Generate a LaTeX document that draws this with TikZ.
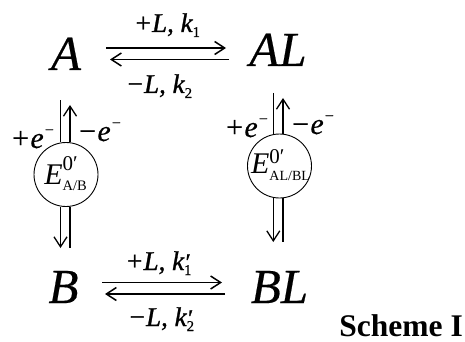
\documentclass[tikz,border=0pt]{standalone}
\usepackage{fontspec}
\setmainfont{Liberation Serif}
\newfontface\spf[FakeBold=0.4]{Liberation Serif Italic}
\newfontface\rtf[FakeBold=1.1]{Liberation Serif Italic}
\newfontface\upf[FakeBold=0.5]{Liberation Serif}
\usetikzlibrary{arrows.meta,shapes.geometric}
% \SubSup{sub}{sup}{sub raise}{sup raise}{sub size}{sup size}
\newcommand{\SubSup}[6]{\setbox0=\hbox{\raisebox{#3}{\fontsize{#5}{#5}\selectfont #1}}\setbox1=\hbox{\raisebox{#4}{\fontsize{#6}{#6}\selectfont #2}}\ifdim\wd0>\wd1 \rlap{\box1}\box0\else\rlap{\box0}\box1\fi}
\newcommand{\RK}[2]{k\SubSup{\upf #1}{\rtf #2}{-5pt}{0pt}{15}{24}}
\newcommand{\Elec}[1]{#1e\raisebox{13pt}{\fontsize{16}{16}\selectfont −}}
\tikzset{
 x=1pt,y=-1pt,
 species/.style={inner sep=0pt,font=\fontsize{49}{49}\selectfont\spf,anchor=base},
 rate/.style={inner sep=0pt,font=\fontsize{27}{27}\selectfont\rtf,anchor=base},
 elec/.style={inner sep=0pt,font=\fontsize{30}{30}\selectfont\spf,anchor=base west},
 potential/.style={circle,draw,line width=0.9pt,minimum size=64pt,inner sep=0pt},
 potlabel/.style={inner sep=0pt,font=\fontsize{30}{30}\selectfont\itshape,anchor=base},
 eqarrow/.style={line width=1.5pt,-{Straight Barb[length=10pt,width=13pt,line width=1.5pt]}},
 redox/.style={line width=1.3pt},
 redoxarrow/.style={line width=1.3pt,-{Straight Barb[length=10pt,width=13pt,line width=1.3pt]}}
}
\begin{document}
\begin{tikzpicture}
\useasboundingbox (0,0) rectangle (465,342);
\fill[white] (0,0) rectangle (465,342);
\node[species] (A) at (66,70) {A};
\node[species] (AL) at (278,66) {AL};
\node[species] (B) at (63.5,303) {B};
\node[species] (BL) at (279.5,303) {BL};
\coordinate (a1) at (106,48); \coordinate (a2) at (226,48);
\coordinate (a3) at (229,59.5); \coordinate (a4) at (110,59.5);
\coordinate (b1) at (102,282.5); \coordinate (b2) at (222,282.5);
\coordinate (b3) at (225,294); \coordinate (b4) at (105,294);
\draw[eqarrow] (a1) -- (a2);
\draw[eqarrow] (a3) -- (a4);
\draw[eqarrow] (b1) -- (b2);
\draw[eqarrow] (b3) -- (b4);
\node[rate] (t1) at (167,32) {+L, \RK{1}{\vphantom{1}}};
\node[rate] (t2) at (159,93) {−L, \RK{2}{\vphantom{1}}};
\node[rate] (t3) at (158.5,270) {+L, \RK{1}{′}};
\node[rate] (t4) at (161,326) {−L, \RK{2}{′}};
\node[potential] (E1) at (66,174.5) {};
\node[potential] (E2) at (279.5,166) {};
\node[potlabel] (E1t) at (65.5,184) {E\SubSup{\upshape A/B}{\upshape 0′}{-6pt}{14pt}{14.5}{21}};
\node[potlabel] (E2t) at (280.5,173) {E\SubSup{\upshape AL/BL}{\upshape 0′}{-7pt}{10pt}{14}{21}};
\coordinate (l1) at (60.5,100.5); \coordinate (l2) at (70,105);
\coordinate (l3) at (70,248); \coordinate (l4) at (60.5,248);
\draw[redox] (l1) -- (l1 |- E1.north);
\draw[redoxarrow] (l2 |- E1.north) -- (l2);
\draw[redox] (l3 |- E1.south) -- (l3);
\draw[redoxarrow] (l4 |- E1.south) -- (l4);
\coordinate (r1) at (273.3,93); \coordinate (r2) at (283,98);
\coordinate (r3) at (283,242); \coordinate (r4) at (273.3,242);
\draw[redox] (r1) -- (r1 |- E2.north);
\draw[redoxarrow] (r2 |- E2.north) -- (r2);
\draw[redox] (r3 |- E2.south) -- (r3);
\draw[redoxarrow] (r4 |- E2.south) -- (r4);
\node[elec] (p1) at (10,148) {\Elec{+}};
\node[elec] (m1) at (77,141) {\Elec{−}};
\node[elec] (p2) at (224,137) {\Elec{+}};
\node[elec] (m2) at (290,134) {\Elec{−}};
\node[inner sep=0pt,anchor=base east,font=\fontsize{31.5}{32}\selectfont\bfseries] (S) at (463,336.5) {Scheme I};
\end{tikzpicture}
\end{document}
